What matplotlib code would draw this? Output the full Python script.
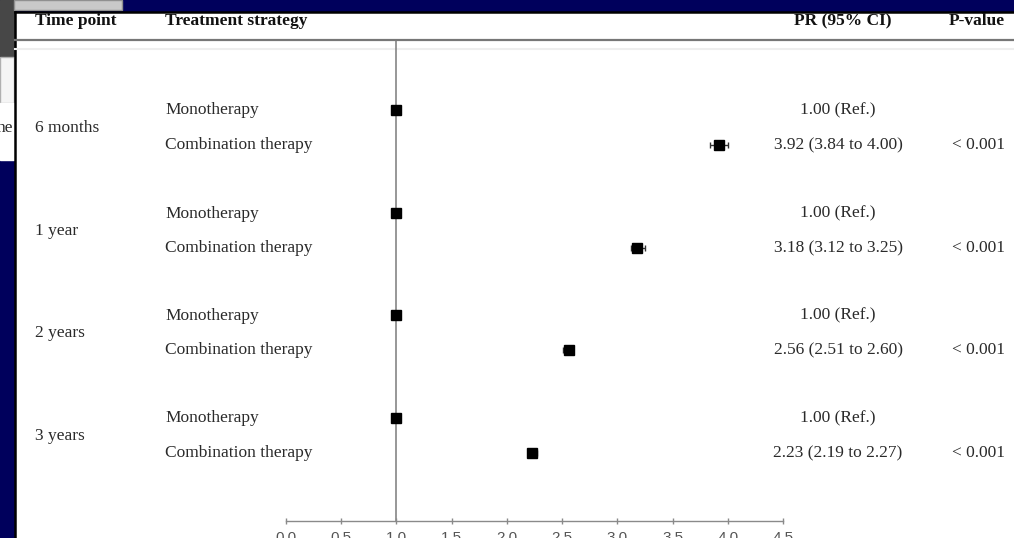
import matplotlib.pyplot as plt
from matplotlib.patches import Rectangle

# ---------- data ----------
time_points = ["6 months", "1 year", "2 years", "3 years"]
strategies = ["Monotherapy", "Combination therapy"]
pr = [3.92, 3.18, 2.56, 2.23]
ci_lo = [3.84, 3.12, 2.51, 2.19]
ci_hi = [4.00, 3.25, 2.60, 2.27]
ref_pr = 1.00
p_values = ["< 0.001", "< 0.001", "< 0.001", "< 0.001"]
x_ticks = [0.0, 0.5, 1.0, 1.5, 2.0, 2.5, 3.0, 3.5, 4.0, 4.5]

W, H = 1014, 538
NAVY = "#00005c"
TXT = "#2a2a2a"
SERIF = "Liberation Serif"
FS = 12.5

# layout (pixel rows, from top)
group_y = [127.5, 231, 333, 435.5]
dy = 17.5

fig = plt.figure(figsize=(W / 100, H / 100), dpi=100, facecolor=NAVY)

# background layer in pixel coords
bg = fig.add_axes([0, 0, 1, 1])
bg.set_xlim(0, W)
bg.set_ylim(H, 0)
bg.axis("off")
bg.set_facecolor(NAVY)

# bits of other windows behind the panel
bg.add_patch(Rectangle((0, 0), 14, 56, color="#474747", zorder=1))
bg.add_patch(Rectangle((0, 57), 14, 46, facecolor="#f5f5f5", edgecolor="#b0b0b0", lw=1, zorder=1))
bg.add_patch(Rectangle((0, 103), 14, 57, color="white", zorder=1))
bg.text(-3, 128, "ne", fontsize=FS, family=SERIF, color=TXT, va="center", ha="left", zorder=1.5)
bg.add_patch(Rectangle((14, 0), 108, 10, facecolor="#c9c9c9", edgecolor="#909090", lw=1, zorder=1))

# white panel
bg.add_patch(Rectangle((15, 12), W - 15, H - 12, facecolor="white", edgecolor="none", zorder=2))
bg.plot([15, 15], [12, H], color="black", lw=1.8, zorder=3)
bg.plot([15, W], [12, 12], color="black", lw=1.8, zorder=3)

# header
hy = 21
bg.text(35, hy, "Time point", fontsize=FS, family=SERIF, weight="bold", color="#111", va="center", zorder=4)
bg.text(165, hy, "Treatment strategy", fontsize=FS, family=SERIF, weight="bold", color="#111", va="center", zorder=4)
bg.text(843, hy, "PR (95% CI)", fontsize=FS, family=SERIF, weight="bold", color="#111", va="center", ha="center", zorder=4)
bg.text(1005, hy, "P-value", fontsize=FS, family=SERIF, weight="bold", color="#111", va="center", ha="right", zorder=4)
bg.plot([15, W], [40, 40], color="#777777", lw=1.6, zorder=4)
bg.plot([15, W], [49, 49], color="#eeeeee", lw=1.5, zorder=4)

# table text
for i, tp in enumerate(time_points):
    gy = group_y[i]
    bg.text(35, gy, tp, fontsize=FS, family=SERIF, color=TXT, va="center", zorder=4)
    bg.text(165, gy - dy, strategies[0], fontsize=FS, family=SERIF, color=TXT, va="center", zorder=4)
    bg.text(165, gy + dy, strategies[1], fontsize=FS, family=SERIF, color=TXT, va="center", zorder=4)
    bg.text(838, gy - dy, f"{ref_pr:.2f} (Ref.)", fontsize=FS, family=SERIF, color=TXT,
            va="center", ha="center", zorder=4)
    bg.text(838, gy + dy, f"{pr[i]:.2f} ({ci_lo[i]:.2f} to {ci_hi[i]:.2f})", fontsize=FS,
            family=SERIF, color=TXT, va="center", ha="center", zorder=4)
    bg.text(1005, gy + dy, p_values[i], fontsize=FS, family=SERIF, color=TXT,
            va="center", ha="right", zorder=4)

# ---------- forest axes ----------
x0, x1 = 286, 783
y_top, y_bot = 40, 521
ax = fig.add_axes([x0 / W, 1 - y_bot / H, (x1 - x0) / W, (y_bot - y_top) / H])
ax.patch.set_alpha(0)
ax.set_xlim(x_ticks[0], x_ticks[-1])
ax.set_ylim(y_bot, y_top)
for s in ["top", "right", "left"]:
    ax.spines[s].set_visible(False)
ax.spines["bottom"].set_color("#8a8a8a")
ax.spines["bottom"].set_linewidth(1)
ax.set_yticks([])
ax.set_xticks(x_ticks)
ax.set_xticklabels([f"{t:.1f}" for t in x_ticks], family="Liberation Sans", fontsize=11, color="#555555")
ax.tick_params(axis="x", direction="inout", length=4, width=1, color="#8a8a8a", pad=5)

ax.axvline(ref_pr, color="#7a7a7a", lw=1.1, zorder=1)

mono_y = [g - dy for g in group_y]
comb_y = [g + dy for g in group_y]
ax.plot([ref_pr] * len(mono_y), mono_y, "s", color="black", ms=7.5, zorder=3)
ax.errorbar(pr, comb_y,
            xerr=[[p - l for p, l in zip(pr, ci_lo)], [h - p for p, h in zip(pr, ci_hi)]],
            fmt="s", color="black", ms=7.5, ecolor="#333333", elinewidth=1, capsize=2, zorder=3)

fig.savefig("out.png", dpi=100, facecolor=NAVY)
